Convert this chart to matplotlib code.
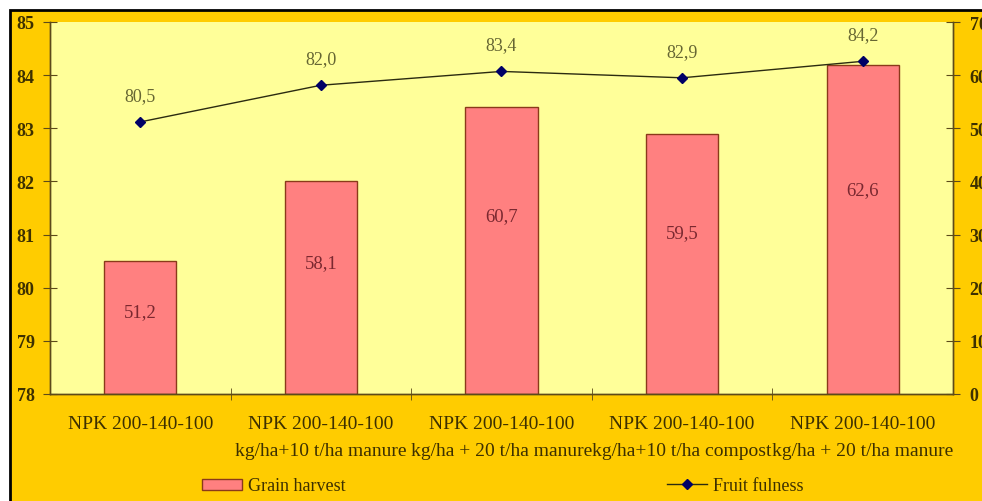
import matplotlib
matplotlib.use("Agg")
import matplotlib.pyplot as plt
from matplotlib.patches import Rectangle, Patch
from matplotlib.lines import Line2D

plt.rcParams['font.family'] = ['Liberation Serif', 'DejaVu Serif']

# данные
categories = [
    "NPK 200-140-100",
    "NPK 200-140-100\nkg/ha+10 t/ha manure",
    "NPK 200-140-100\nkg/ha + 20 t/ha manure",
    "NPK 200-140-100\nkg/ha+10 t/ha compost",
    "NPK 200-140-100\nkg/ha + 20 t/ha manure",
]
bar_values = [80.5, 82.0, 83.4, 82.9, 84.2]     # левая ось
line_values = [51.2, 58.1, 60.7, 59.5, 62.6]    # правая ось
left_ticks = [78, 79, 80, 81, 82, 83, 84, 85]
right_ticks = [0, 10, 20, 30, 40, 50, 60, 70]

W, H = 982, 502
fig = plt.figure(figsize=(W / 100, H / 100), dpi=100)
fig.patch.set_facecolor('white')

# золотой фон с черной рамкой (справа и снизу рамка обрезана, как в оригинале)
bg = Rectangle((10 / W, -0.1), 1.2, 1.1 - 11 / H, transform=fig.transFigure,
               facecolor='#FFCC00', edgecolor='black', linewidth=2)
bg.set_zorder(-10)
fig.add_artist(bg)

ax = fig.add_axes([50 / W, 1 - 395 / H, (953 - 50) / W, (395 - 23) / H])
ax.set_facecolor('#FFFF99')
ax2 = ax.twinx()

axis_col = '#5c4a1a'
text_col = '#3d3000'
x = list(range(len(categories)))

ax.bar(x, [v - left_ticks[0] for v in bar_values], bottom=left_ticks[0], width=0.4,
       color='#FF8080', edgecolor='#8a3a1a', linewidth=1, zorder=2)
for xi, v, lab in zip(x, bar_values, line_values):
    y = left_ticks[0] + 0.62 * (v - left_ticks[0])
    ax.text(xi, y, f"{lab:.1f}".replace('.', ','), ha='center', va='center',
            fontsize=13.5, color='#7a2830')

ax2.plot(x, line_values, color='#2b2b10', linewidth=1, marker='D',
         markersize=5, markerfacecolor='#000066', markeredgecolor='#000066', zorder=3)
for xi, v, lab in zip(x, line_values, bar_values):
    ax2.annotate(f"{lab:.1f}".replace('.', ','), (xi, v), xytext=(0, 13),
                 textcoords='offset points', ha='center', va='bottom',
                 fontsize=13, color='#666633')

ax.set_xlim(-0.5, len(categories) - 0.5)
ax.set_ylim(left_ticks[0], left_ticks[-1])
ax2.set_ylim(right_ticks[0], right_ticks[-1])
ax.set_yticks(left_ticks)
ax2.set_yticks(right_ticks)

ax.set_xticks(x)
ax.set_xticklabels(categories, fontsize=14, color=text_col, linespacing=1.75)
ax.set_xticks([i + 0.5 for i in x[:-1]], minor=True)
ax.tick_params(axis='x', which='major', length=0, pad=15)
ax.tick_params(axis='x', which='minor', direction='inout', length=9, color=axis_col)
ax.tick_params(axis='y', direction='inout', length=10, color=axis_col, pad=6,
               labelsize=13, labelcolor=text_col)
ax2.tick_params(axis='y', direction='inout', length=10, color=axis_col, pad=7,
                labelsize=13, labelcolor=text_col)
for t in ax.get_yticklabels() + ax2.get_yticklabels():
    t.set_fontweight('bold')

for a in (ax, ax2):
    a.spines['top'].set_visible(False)
    for s in ('left', 'right', 'bottom'):
        a.spines[s].set_color(axis_col)
        a.spines[s].set_linewidth(1)

# легенда
h1 = Patch(facecolor='#FF8080', edgecolor='#8a3a1a')
h2 = Line2D([], [], color='#2b2b10', linewidth=1, marker='D', markersize=5,
            markerfacecolor='#000066', markeredgecolor='#000066')
fig.legend([h1], ["Grain harvest"], loc='center left', bbox_to_anchor=(202 / W, 1 - 487 / H),
           frameon=False, fontsize=13, borderpad=0, borderaxespad=0,
           handlelength=2.2, handleheight=0.55, handletextpad=0.35, labelcolor=text_col)
fig.legend([h2], ["Fruit fulness"], loc='center left', bbox_to_anchor=(667 / W, 1 - 487 / H),
           frameon=False, fontsize=13, borderpad=0, borderaxespad=0,
           handlelength=2.2, handletextpad=0.35, labelcolor=text_col)

fig.savefig('out.png', dpi=100, facecolor=fig.get_facecolor())
